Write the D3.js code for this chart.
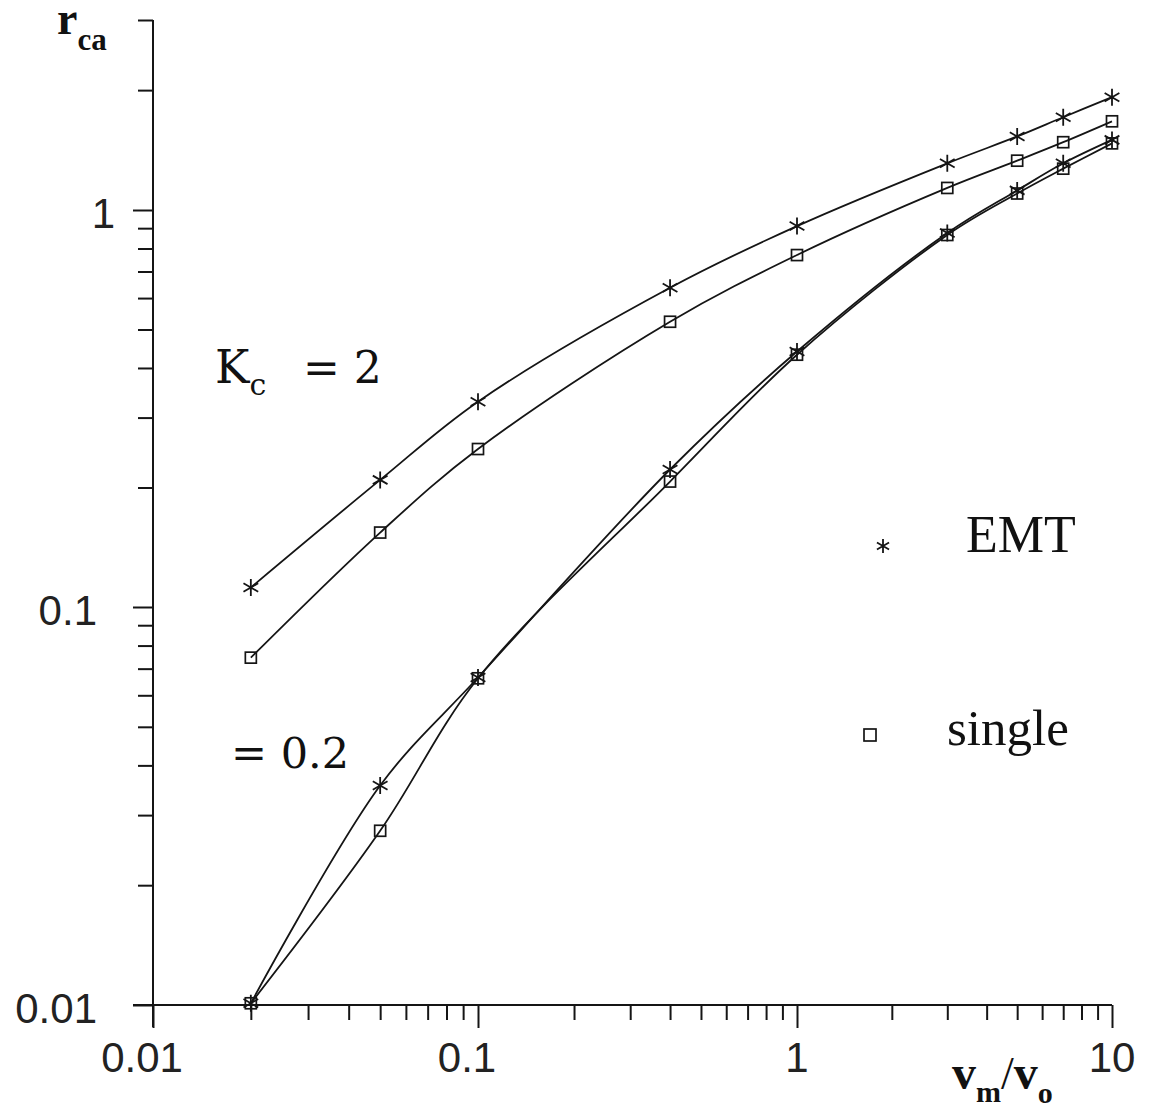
<!DOCTYPE html>
<html>
<head>
<meta charset="utf-8">
<script src="https://cdn.jsdelivr.net/npm/d3@7/dist/d3.min.js"></script>
<style>
  html, body { margin: 0; padding: 0; background: #fff; }
  svg { display: block; }
  .tick-label { font-family: "Liberation Sans", Arial, sans-serif; font-size: 42px; fill: #222; }
  .serif { font-family: "Liberation Serif", "Times New Roman", serif; fill: #111; }
  .note { font-family: "DejaVu Serif", "Liberation Serif", serif; fill: #111; }
</style>
</head>
<body>
<svg id="chart" width="1152" height="1109"></svg>
<script>
// Velocity ratio v_m / v_o at which r_ca was evaluated
const velocityRatio = [0.02, 0.05, 0.1, 0.4, 1, 3, 5, 7, 10];

// r_ca for K_c = 2
const emtKc2    = [0.112, 0.209, 0.329, 0.637, 0.911, 1.31, 1.53, 1.71, 1.92];
const singleKc2 = [0.0746, 0.154, 0.250, 0.523, 0.770, 1.136, 1.33, 1.48, 1.67];

// r_ca for K_c = 0.2
const emtKc02    = [0.0101, 0.0356, 0.0665, 0.222, 0.44, 0.875, 1.12, 1.31, 1.50];
const singleKc02 = [0.0101, 0.0274, 0.0662, 0.207, 0.432, 0.865, 1.10, 1.27, 1.47];

// Decade breakpoints of the two log axes and their labels
const xDecades = [0.01, 0.1, 1, 10];
const yDecades = [0.01, 0.1, 1, 3];
const xMajorLabels = [0.01, 0.1, 1, 10];
const yMajorLabels = [0.01, 0.1, 1];

const series = [
  { name: "EMT, Kc=2",      values: emtKc2,     marker: "star" },
  { name: "single, Kc=2",   values: singleKc2,  marker: "square" },
  { name: "EMT, Kc=0.2",    values: emtKc02,    marker: "star" },
  { name: "single, Kc=0.2", values: singleKc02, marker: "square" }
];

const svg = d3.select("#chart");
const ink = "#151515";

// piecewise log scales, one segment per decade
const x = d3.scaleLog().domain(xDecades).range([153, 478, 797, 1112]);
const y = d3.scaleLog().domain(yDecades).range([1005, 607, 210, 20]);
const xMin = xDecades[0], xMax = xDecades[xDecades.length - 1];
const yMin = yDecades[0], yMax = yDecades[yDecades.length - 1];

const isMajor = v => Math.abs(Math.log10(v) - Math.round(Math.log10(v))) < 1e-9;
const fmt = v => (v >= 1 ? d3.format("d")(v) : String(+v.toPrecision(1)));

// ---- x axis ----
const xAxis = d3.axisBottom(x)
  .tickValues(x.ticks())
  .tickSize(15)
  .tickSizeOuter(0)
  .tickFormat("");
const gx = svg.append("g").attr("transform", `translate(0,${y(yMin)})`).call(xAxis);
gx.select(".domain").remove();
gx.selectAll(".tick line")
  .attr("stroke", ink).attr("stroke-width", 2)
  .attr("y2", d => isMajor(d) ? 23 : 15);
gx.append("line")
  .attr("x1", x(xMin) - 20).attr("x2", x(xMax))
  .attr("stroke", ink).attr("stroke-width", 2);
gx.selectAll(".xlab").data(xMajorLabels).join("text")
  .attr("class", "tick-label")
  .attr("x", d => x(d) - (d < 1 ? 11 : 0))
  .attr("y", 67)
  .attr("text-anchor", "middle")
  .text(fmt);

// ---- y axis ----
const yAxis = d3.axisLeft(y)
  .tickValues(y.ticks())
  .tickSize(15)
  .tickSizeOuter(0)
  .tickFormat("");
const gy = svg.append("g").attr("transform", `translate(${x(xMin)},0)`).call(yAxis);
gy.select(".domain").remove();
gy.selectAll(".tick line")
  .attr("stroke", ink).attr("stroke-width", 2)
  .attr("x2", d => isMajor(d) ? -20 : -15);
gy.append("line")
  .attr("y1", y(yMax)).attr("y2", y(yMin) + 22)
  .attr("stroke", ink).attr("stroke-width", 2);
gy.selectAll(".ylab").data(yMajorLabels).join("text")
  .attr("class", "tick-label")
  .attr("x", d => d === 1 ? -38 : -56)
  .attr("y", d => y(d) + 18)
  .attr("text-anchor", "end")
  .text(fmt);

// ---- axis titles ----
const yTitle = svg.append("text").attr("class", "serif").attr("x", 57).attr("y", 34);
yTitle.append("tspan").attr("font-size", 46).attr("font-weight", "bold").text("r");
yTitle.append("tspan").attr("font-size", 31).attr("font-weight", "bold").attr("dy", 16).text("ca");

const xTitle = svg.append("text").attr("class", "serif").attr("x", 952).attr("y", 1089);
xTitle.append("tspan").attr("font-size", 48).attr("font-weight", "bold").text("v");
xTitle.append("tspan").attr("font-size", 30).attr("font-weight", "bold").attr("dy", 13).text("m");
xTitle.append("tspan").attr("font-size", 46).attr("dy", -13).text("/");
xTitle.append("tspan").attr("font-size", 48).attr("font-weight", "bold").text("v");
xTitle.append("tspan").attr("font-size", 30).attr("font-weight", "bold").attr("dy", 14).text("o");

// ---- curves ----
const line = d3.line()
  .x((d, i) => x(velocityRatio[i]))
  .y(d => y(d))
  .curve(d3.curveCatmullRom.alpha(0.5));

svg.append("g").selectAll("path").data(series).join("path")
  .attr("d", s => line(s.values))
  .attr("fill", "none")
  .attr("stroke", ink)
  .attr("stroke-width", 1.8);

// ---- markers ----
function drawStar(g, cx, cy, r) {
  const p = d3.path();
  for (let k = 0; k < 3; k++) {
    const a = Math.PI / 2 + k * Math.PI / 3;
    p.moveTo(cx + r * Math.cos(a), cy - r * Math.sin(a));
    p.lineTo(cx - r * Math.cos(a), cy + r * Math.sin(a));
  }
  g.append("path").attr("d", p.toString())
    .attr("stroke", ink).attr("stroke-width", 1.8).attr("fill", "none");
}
function drawSquare(g, cx, cy, s) {
  g.append("rect")
    .attr("x", cx - s / 2).attr("y", cy - s / 2)
    .attr("width", s).attr("height", s)
    .attr("fill", "none").attr("stroke", ink).attr("stroke-width", 1.7);
}

const gm = svg.append("g");
series.forEach(s => {
  s.values.forEach((v, i) => {
    const cx = x(velocityRatio[i]), cy = y(v);
    if (s.marker === "star") drawStar(gm, cx, cy, 8.5);
    else drawSquare(gm, cx, cy, 11);
  });
});

// ---- annotations ----
const kc = svg.append("text").attr("class", "note").attr("x", 215).attr("y", 383);
kc.append("tspan").attr("font-size", 46).text("K");
kc.append("tspan").attr("font-size", 30).attr("dy", 12).text("c");
kc.append("tspan").attr("font-size", 44).attr("dy", -12).attr("x", 303).text("= 2");

svg.append("text").attr("class", "note")
  .attr("x", 231).attr("y", 768).attr("font-size", 43)
  .text("= 0.2");

// ---- legend ----
const legend = svg.append("g");
drawStar(legend, 883, 546, 7);
legend.append("text").attr("class", "serif")
  .attr("x", 966).attr("y", 552).attr("font-size", 52).text("EMT");
drawSquare(legend, 870, 735, 12);
legend.append("text").attr("class", "serif")
  .attr("x", 947).attr("y", 745).attr("font-size", 51).text("single");
</script>
</body>
</html>
